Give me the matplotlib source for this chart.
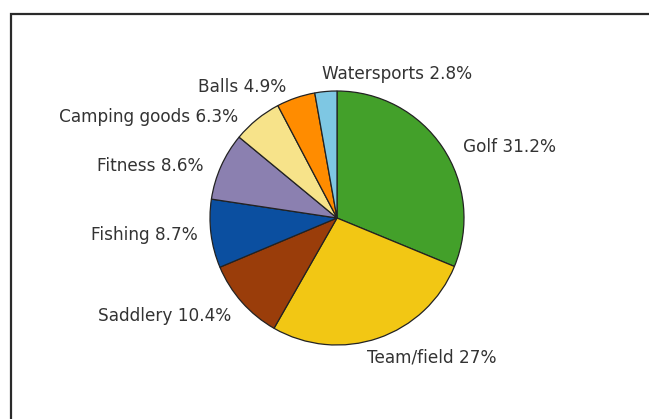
import numpy as np
import matplotlib.pyplot as plt
from matplotlib.patches import Rectangle

# sales share by product group
categorias = ['Golf', 'Team/field', 'Saddlery', 'Fishing', 'Fitness',
              'Camping goods', 'Balls', 'Watersports']
percentuais = [31.2, 27, 10.4, 8.7, 8.6, 6.3, 4.9, 2.8]
cores = ['#43a02a', '#f2c714', '#9a3d0a', '#0b4fa0', '#8b80b0',
         '#f7e38a', '#ff8c00', '#7ec7e3']

rotulos = [f'{c} {p:g}%' for c, p in zip(categorias, percentuais)]

W, H = 649, 419
fig = plt.figure(figsize=(W / 100, H / 100), dpi=100)
fig.patch.set_facecolor('white')

# pie placed by pixel centre and radius
cx, cy, r = 337, 218, 127
ax = fig.add_axes([(cx - r) / W, (H - cy - r) / H, 2 * r / W, 2 * r / H])

wedges, textos = ax.pie(percentuais, labels=rotulos, colors=cores,
                        startangle=90, counterclock=False,
                        labeldistance=1.12,
                        wedgeprops=dict(edgecolor='#222222', linewidth=0.9),
                        textprops=dict(fontsize=12.2, color='#333333'))
ax.set_xlim(-1, 1)
ax.set_ylim(-1, 1)
ax.set_aspect('equal')
ax.axis('off')

# hand-tuned label placement (axes units, radius = 1)
ajustes = {
    0: ('left', (0.99, 0.56)),
    1: ('left', (0.24, -1.095)),
    2: ('right', (-0.83, -0.77)),
    3: ('right', (-1.095, -0.13)),
    4: ('right', (-1.05, 0.41)),
    5: ('right', (-0.78, 0.795)),
    6: ('right', (-0.40, 1.03)),
    7: ('left', (-0.12, 1.13)),
}
for i, (ha, pos) in ajustes.items():
    textos[i].set_horizontalalignment(ha)
    textos[i].set_position(pos)

# frame: only top and left edges fall inside the image
fig.add_artist(Rectangle((10.5 / W, -0.2), 1.5, 1.2 - 13.5 / H,
                         transform=fig.transFigure, fill=False,
                         edgecolor='#2a2a2a', linewidth=1.6))

fig.savefig('out.png', dpi=100)
